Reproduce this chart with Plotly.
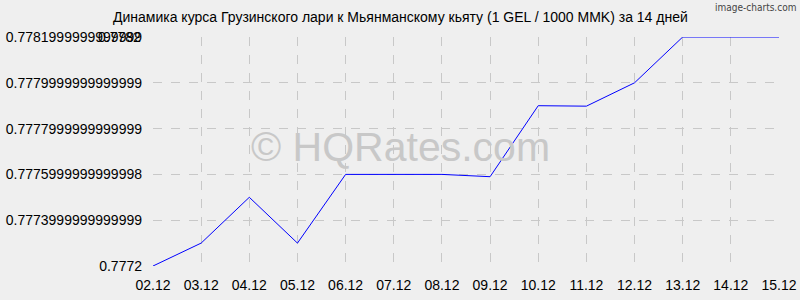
import plotly.graph_objects as go

dates = ["02.12", "03.12", "04.12", "05.12", "06.12", "07.12", "08.12",
         "09.12", "10.12", "11.12", "12.12", "13.12", "14.12", "15.12"]
rates = [0.7772, 0.7773, 0.7775, 0.7773, 0.7776, 0.77760, 0.77760,
         0.77759, 0.77790, 0.777898, 0.7780, 0.7782, 0.7782, 0.7782]

y_tickvals = [0.7772, 0.7774, 0.7776, 0.7778, 0.7780, 0.7782]
y_ticktext = ["0.7772", "0.7773999999999999", "0.7775999999999998",
              "0.7777999999999999", "0.7779999999999999", "0.7781999999999999"]
y_max_label = "0.7782"

title = "Динамика курса Грузинского лари к Мьянманскому кьяту (1 GEL / 1000 MMK) за 14 дней"

bg = "#efefef"
font = "Arial, Liberation Sans, sans-serif"

fig = go.Figure()
fig.add_trace(go.Scatter(x=dates, y=rates, mode="lines",
                         line=dict(color="#0000ff", width=1)))

fig.update_layout(
    width=800, height=300,
    margin=dict(l=153, r=21, t=37, b=34),
    paper_bgcolor=bg, plot_bgcolor=bg,
    showlegend=False,
    font=dict(family=font, size=14, color="#000000"),
)
fig.update_xaxes(
    type="category", range=[0, len(dates) - 1], automargin=False,
    showgrid=True, gridcolor="#c8c8c8", griddash="dash", gridwidth=1,
    zeroline=False, showline=False, ticks="", ticklabelstandoff=9,
    tickfont=dict(size=14),
)
fig.update_yaxes(
    range=[y_tickvals[0], y_tickvals[-1]], automargin=False,
    tickvals=y_tickvals, ticktext=y_ticktext,
    showgrid=True, gridcolor="#c8c8c8", griddash="dash", gridwidth=1,
    zeroline=False, showline=False, ticks="", ticklabelstandoff=10,
    tickfont=dict(size=14),
)

fig.add_annotation(text=y_max_label, xref="paper", yref="y", x=0, y=y_tickvals[-1],
                   xanchor="right", xshift=-10, showarrow=False,
                   font=dict(size=14, color="#000000"))
fig.add_annotation(text=title, xref="paper", yref="paper", x=0.5, y=1,
                   xanchor="center", yanchor="bottom", yshift=10, xshift=-66,
                   showarrow=False, font=dict(size=14, color="#000000"))
fig.add_annotation(text="© HQRates.com", xref="paper", yref="paper",
                   x=0.5, y=0.5, xshift=400 - (153 + 626 / 2), yshift=(151.5 - 147),
                   showarrow=False, font=dict(size=41, color="#c8c8c8"))
fig.add_annotation(text="image-charts.com", xref="paper", yref="paper",
                   x=1, y=1, xanchor="right", yanchor="bottom", xshift=19, yshift=22,
                   showarrow=False, font=dict(size=10, color="#444444",
                                              family="DejaVu Sans Condensed, Arial"))

fig.write_html("out.html")
